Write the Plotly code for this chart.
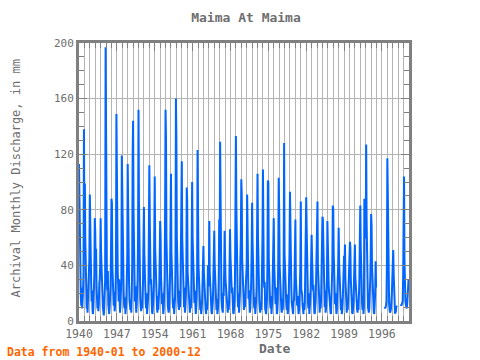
import plotly.graph_objects as go
import pandas as pd

N = None
# Monthly discharge (mm), one list per decade, Jan..Dec for each year
q1940s = [
    113, 82, 45, 38, 18, 11, 24, 9, 14, 21, 35, 138,    # 1940
    60, 99, 59, 33, 17, 9, 12, 6, 16, 25, 44, 45,       # 1941
    91, 53, 35, 28, 14, 22, 8, 5, 11, 19, 33, 74,       # 1942
    65, 40, 52, 24, 13, 9, 18, 7, 12, 27, 30, 40,       # 1943
    74, 49, 35, 27, 15, 10, 7, 4, 9, 16, 30, 197,       # 1944
    110, 45, 28, 22, 36, 12, 8, 5, 10, 18, 25, 50,      # 1945
    88, 85, 40, 30, 16, 11, 21, 7, 10, 20, 40, 149,     # 1946
    89, 53, 35, 26, 14, 30, 9, 6, 12, 22, 30, 119,      # 1947
    85, 40, 30, 22, 12, 9, 17, 5, 9, 15, 25, 45,        # 1948
    113, 61, 51, 29, 15, 10, 8, 12, 6, 18, 40, 119,     # 1949
]
q1950s = [
    144, 78, 40, 30, 14, 25, 8, 6, 11, 19, 30, 60,      # 1950
    152, 85, 45, 29, 15, 10, 7, 14, 9, 18, 28, 55,      # 1951
    82, 48, 30, 24, 13, 9, 20, 5, 8, 15, 22, 50,        # 1952
    112, 72, 38, 26, 30, 10, 7, 5, 9, 17, 26, 48,       # 1953
    104, 52, 35, 24, 13, 9, 6, 18, 8, 14, 24, 45,       # 1954
    72, 61, 33, 24, 12, 20, 7, 5, 9, 15, 30, 80,        # 1955
    152, 131, 60, 35, 18, 11, 8, 6, 10, 18, 35, 70,     # 1956
    106, 50, 30, 24, 13, 9, 16, 5, 9, 16, 40, 160,      # 1957
    132, 60, 35, 26, 14, 10, 8, 22, 10, 19, 40, 80,     # 1958
    115, 60, 50, 29, 15, 10, 24, 6, 10, 17, 30, 96,     # 1959
]
q1960s = [
    87, 35, 30, 22, 12, 9, 6, 15, 9, 15, 40, 100,       # 1960
    60, 43, 30, 24, 13, 22, 7, 5, 9, 16, 35, 123,       # 1961
    81, 40, 28, 22, 12, 8, 14, 5, 8, 14, 25, 50,        # 1962
    54, 35, 25, 20, 11, 8, 5, 12, 8, 13, 40, 25,        # 1963
    30, 72, 35, 24, 13, 18, 6, 5, 8, 15, 30, 63,        # 1964
    65, 40, 28, 22, 12, 8, 16, 5, 8, 14, 30, 73,        # 1965
    50, 129, 79, 35, 17, 10, 8, 6, 20, 18, 35, 65,      # 1966
    47, 30, 25, 20, 11, 8, 6, 14, 8, 14, 30, 66,        # 1967
    47, 35, 25, 20, 24, 8, 6, 5, 8, 14, 30, 69,         # 1968
    133, 84, 51, 33, 17, 10, 20, 6, 10, 19, 45, 60,     # 1969
]
q1970s = [
    102, 90, 45, 30, 16, 10, 8, 15, 10, 18, 30, 40,     # 1970
    40, 91, 49, 30, 16, 22, 8, 6, 9, 16, 28, 50,        # 1971
    85, 57, 35, 24, 13, 9, 17, 5, 9, 15, 25, 55,        # 1972
    106, 61, 35, 26, 14, 9, 6, 12, 8, 15, 28, 60,       # 1973
    109, 37, 30, 24, 28, 9, 6, 5, 9, 16, 40, 101,       # 1974
    100, 45, 30, 24, 13, 9, 18, 5, 9, 16, 35, 73,       # 1975
    74, 40, 30, 22, 12, 24, 6, 5, 8, 15, 45, 103,       # 1976
    80, 40, 30, 22, 12, 8, 6, 16, 8, 15, 40, 128,       # 1977
    48, 30, 25, 20, 11, 8, 19, 5, 8, 14, 30, 50,        # 1978
    93, 53, 33, 24, 13, 9, 6, 5, 14, 15, 28, 45,        # 1979
]
q1980s = [
    73, 31, 25, 20, 11, 18, 6, 5, 8, 14, 25, 40,        # 1980
    86, 23, 22, 19, 11, 8, 5, 13, 8, 13, 30, 50,        # 1981
    89, 67, 35, 24, 13, 9, 20, 5, 8, 15, 25, 40,        # 1982
    62, 46, 30, 22, 26, 8, 6, 5, 8, 14, 30, 45,         # 1983
    81, 86, 40, 26, 14, 9, 6, 17, 9, 15, 30, 50,        # 1984
    75, 73, 57, 30, 15, 10, 22, 6, 9, 16, 30, 72,       # 1985
    37, 30, 25, 20, 11, 8, 6, 5, 15, 14, 40, 83,        # 1986
    80, 48, 30, 22, 12, 20, 6, 5, 8, 14, 30, 40,        # 1987
    67, 42, 30, 22, 12, 8, 16, 5, 8, 14, 30, 35,        # 1988
    47, 40, 55, 30, 14, 9, 6, 12, 8, 14, 25, 35,        # 1989
]
q1990s = [
    40, 57, 53, 30, 14, 22, 6, 5, 8, 14, 28, 45,        # 1990
    55, 32, 25, 13, 11, 8, 6, 15, 8, 14, 30, 59,        # 1991
    83, 53, 30, 22, 12, 8, 18, 5, 10, 88, 66, 60,       # 1992
    60, 127, 73, 35, 17, 10, 8, 6, 9, 16, 30, 45,       # 1993
    77, 69, 40, 26, 14, 9, 6, 5, 10, 20, 43, 24,        # 1994
    N, N, N, N, N, N, N, N, N, N, N, N,                 # 1995
    N, N, N, N, N, N, 10, 9, 10, 11, 14, 40,            # 1996
    117, 75, 40, 20, 12, 8, 6, 7, 9, 12, 20, 30,        # 1997
    40, 51, 35, 15, 8, 6, 6, 7, 11, 10, N, N,           # 1998
    N, N, N, N, N, N, 12, 11, 12, 13, 14, 30,           # 1999
]
q2000s = [
    64, 104, 44, 19, 15, 12, 10, 9, 12, 20, 25, 30,     # 2000
]

values = q1940s + q1950s + q1960s + q1970s + q1980s + q1990s + q2000s
dates = pd.date_range("1940-01-01", periods=len(values), freq="MS")

GRAY = "#6e6e6e"
FRAME = "#808080"
GRID = "#b4b4b4"
MONO = "DejaVu Sans Mono"

fig = go.Figure()
fig.add_trace(go.Scatter(
    x=dates, y=values, mode="lines",
    line=dict(color="#0066ff", width=2),
    connectgaps=False, hoverinfo="x+y",
))

fig.update_layout(
    width=480, height=360,
    margin=dict(l=79, r=71, t=43, b=39),
    plot_bgcolor="white", paper_bgcolor="white",
    showlegend=False,
    title=dict(text="<b>Maima At Maima</b>", x=246 / 480, xanchor="center",
               y=1 - 17 / 360, yanchor="middle",
               font=dict(family=MONO, size=13, color=GRAY)),
)

fig.update_xaxes(
    type="date", range=["1940-01-01", "2001-01-01"],
    tick0="1940-01-01", dtick="M84", tickformat="%Y",
    ticks="inside", ticklen=8, tickwidth=1, tickcolor=FRAME,
    showline=True, linewidth=3, linecolor=FRAME, mirror="allticks",
    showgrid=True, gridcolor=GRID, gridwidth=1,
    tickfont=dict(family=MONO, size=11.5, color=GRAY),
    minor=dict(tick0="1940-01-01", dtick="M12", ticks="inside", ticklen=5,
               tickcolor=FRAME, showgrid=True, gridcolor=GRID, gridwidth=1),
    zeroline=False,
)
fig.update_yaxes(
    range=[0, 200], tick0=0, dtick=40,
    ticks="inside", ticklen=8, tickwidth=1, tickcolor=FRAME,
    showline=True, linewidth=3, linecolor=FRAME, mirror="allticks",
    showgrid=True, gridcolor=GRID, gridwidth=1,
    tickfont=dict(family=MONO, size=11, color=GRAY),
    minor=dict(dtick=10, ticks="inside", ticklen=5, tickcolor=FRAME, showgrid=False),
    zeroline=False,
)

fig.add_annotation(text="Archival Monthly Discharge, in mm", xref="paper", yref="paper",
                   x=(15 - 79) / 330, y=(321 - 178.5) / 278, textangle=-90,
                   showarrow=False, xanchor="center", yanchor="middle",
                   font=dict(family=MONO, size=12, color=GRAY))
fig.add_annotation(text="<b>Date</b>", xref="paper", yref="paper",
                   x=(274 - 79) / 330, y=(321 - 348) / 278,
                   showarrow=False, xanchor="center", yanchor="middle",
                   font=dict(family=MONO, size=13, color=GRAY))
fig.add_annotation(text="<b>Data from 1940-01 to 2000-12</b>", xref="paper", yref="paper",
                   x=(5 - 79) / 330, y=(321 - 352) / 278,
                   showarrow=False, xanchor="left", yanchor="middle",
                   font=dict(family=MONO, size=11.5, color="#ff6600"))

fig.write_html("out.html", config={"displayModeBar": False},
               post_script="document.body.style.margin='0';document.body.style.padding='0';")
